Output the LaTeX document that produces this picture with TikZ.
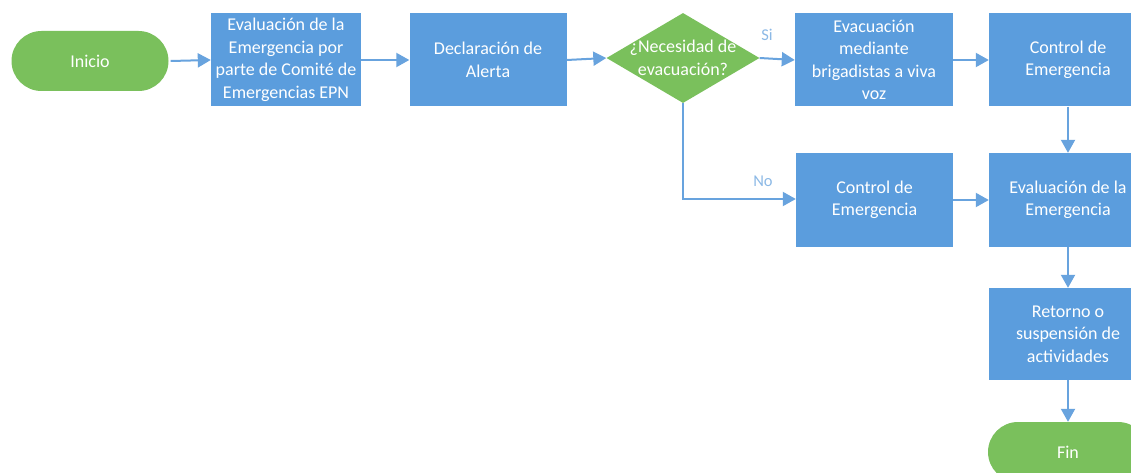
\documentclass[tikz,border=0pt]{standalone}
\usepackage{fontspec}
\setmainfont{Carlito}
\usetikzlibrary{shapes.geometric,arrows.meta}
\definecolor{boxblue}{RGB}{91,157,221}
\definecolor{arrblue}{RGB}{104,163,222}
\definecolor{termgreen}{RGB}{122,192,92}
\definecolor{lblblue}{RGB}{140,185,230}
\tikzset{
  procbox/.style={rectangle, fill=boxblue, draw=none, text=white, align=center, inner sep=0pt,
    minimum width=157pt, minimum height=93pt, font=\fontsize{18}{22.5}\selectfont},
  termbox/.style={rectangle, rounded corners=30pt, fill=termgreen, draw=none, text=white, align=center,
    minimum width=157pt, minimum height=60pt, font=\fontsize{18}{22.5}\selectfont},
  decbox/.style={diamond, fill=termgreen, draw=none, inner sep=0pt, minimum width=153pt, minimum height=90pt},
  dectext/.style={text=white, align=center, font=\fontsize{18}{22.5}\selectfont},
  flow/.style={draw=arrblue, line width=2pt, -{Triangle[length=13pt,width=14pt]}},
  lbl/.style={text=lblblue, font=\fontsize{16.5}{19}\selectfont},
}
\begin{document}
\begin{tikzpicture}[x=1pt,y=1pt]
\useasboundingbox (0,0) rectangle (1131,-473);
\clip (0,0) rectangle (1131,-473);
\fill[white] (0,0) rectangle (1131,-473);
\node[termbox] (inicio) at (90,-61) {Inicio};
\node[procbox, minimum width=150pt] (b1) at (286,-60) {Evaluación de la\\Emergencia por\\parte de Comité de\\Emergencias EPN};
\node[procbox] (b2) at (488,-60) {Declaración de\\Alerta};
\node[decbox] (dec) at (683,-58) {};
\node[dectext] (dect) at (683,-58) {¿Necesidad de\\evacuación?};
\node[procbox, minimum width=158pt] (b3) at (874,-60) {Evacuación\\mediante\\brigadistas a viva\\voz};
\node[procbox, minimum width=158pt] (b4) at (1068,-60) {Control de\\Emergencia};
\node[procbox, minimum height=94pt] (b5) at (874.5,-200) {Control de\\Emergencia};
\node[procbox, minimum width=158pt, minimum height=94pt] (b6) at (1068,-200) {Evaluación de la\\Emergencia};
\node[procbox, minimum width=158pt, minimum height=92pt] (b7) at (1068,-334) {Retorno o\\suspensión de\\actividades};
\node[termbox, minimum width=160pt] (fin) at (1068,-452) {Fin};
\coordinate (nocorner) at (683,-199);
\draw[flow] (inicio.east) ++(2,0) -- (b1.west);
\draw[flow] (b1) -- (b2);
\draw[flow] (b2.east) -- (dec.west);
\draw[flow] (dec.east) -- (b3.west);
\draw[flow] (b3) -- (b4);
\draw[flow] (b4) -- (b6);
\draw[flow] (dec.south) -- (nocorner) -- (b5.west |- nocorner);
\draw[flow] (b5) -- (b6);
\draw[flow] (b6) -- (b7);
\draw[flow] (b7) -- (fin);
\node[lbl] (si) at (767,-35) {Si};
\node[lbl] (no) at (763,-181) {No};
\end{tikzpicture}
\end{document}
